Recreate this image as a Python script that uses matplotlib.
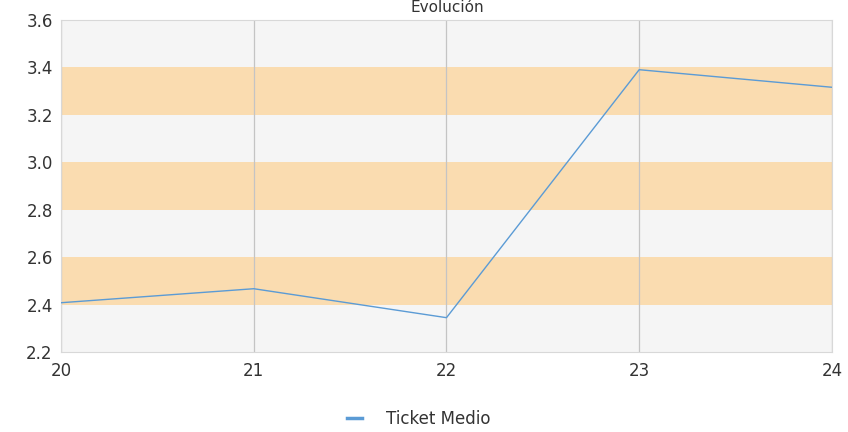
import matplotlib
matplotlib.use("Agg")
import matplotlib.pyplot as plt
from matplotlib.lines import Line2D

plt.rcParams["font.family"] = ["DejaVu Sans"]

# data
periods = [20, 21, 22, 23, 24]
ticket_medio = [2.408, 2.467, 2.345, 3.39, 3.316]
bands = [(2.4, 2.6), (2.8, 3.0), (3.2, 3.4)]
y_ticks = [2.2, 2.4, 2.6, 2.8, 3.0, 3.2, 3.4, 3.6]

fig = plt.figure(figsize=(8.48, 4.32), dpi=100)
ax = fig.add_axes([0.072, 0.185, 0.909, 0.769])
ax.set_facecolor("#f5f5f5")

for lo, hi in bands:
    ax.axhspan(lo, hi, color="#fadcb0", lw=0, zorder=0)

ax.plot(periods, ticket_medio, color="#5b9bd5", lw=1.0, zorder=3)

ax.set_xlim(20, 24)
ax.set_ylim(2.2, 3.6)
ax.set_xticks(periods)
ax.set_yticks(y_ticks)
ax.set_yticklabels([f"{v:.1f}" for v in y_ticks])
ax.xaxis.grid(True, color="#c4c4c4", lw=0.9, zorder=1)
ax.set_axisbelow(True)
ax.tick_params(axis="both", length=0, labelsize=12, colors="#333333", pad=7)
ax.tick_params(axis="y", pad=6)
for s in ax.spines.values():
    s.set_color("#d8d8d8")
    s.set_linewidth(0.8)

fig.text(0.527, 0.999, "Evolución", ha="center", va="top", fontsize=11, color="#333333")

# legend handle drawn a bit thicker than the line, as in the reference
handle = Line2D([], [], color="#5b9bd5", lw=2.5)
fig.legend([handle], ["Ticket Medio"], loc="center", bbox_to_anchor=(0.494, 0.03),
           frameon=False, fontsize=12, handlelength=0.9, handletextpad=1.4,
           labelcolor="#333333")

fig.savefig("out.png", dpi=100)
